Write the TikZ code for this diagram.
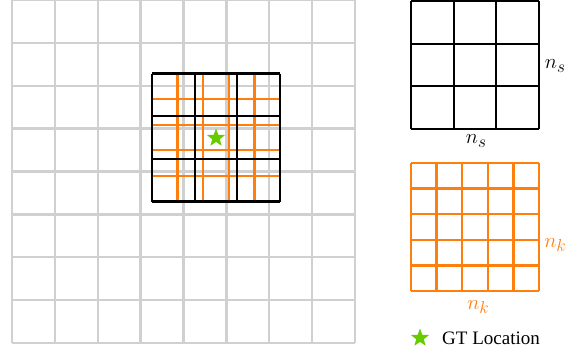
\documentclass[tikz,border=0pt]{standalone}
\usepackage{fontspec}
\setmainfont{Liberation Serif}
\usetikzlibrary{shapes.geometric}
\definecolor{gridgray}{RGB}{208,208,208}
\definecolor{gorange}{RGB}{255,127,14}
\definecolor{stargreen}{RGB}{102,204,0}
\newcommand{\bigsub}[2]{$#1$\raisebox{-4.5pt}{\fontsize{17}{17}\selectfont$#2$}}
\tikzset{
  graygrid/.style={draw=gridgray,line width=2.4pt},
  orangegrid/.style={draw=gorange,line width=2.3pt},
  blackgrid/.style={draw=black,line width=2.3pt},
  gtstar/.style={star,star points=5,star point ratio=2.4,fill=stargreen,draw=none,minimum size=19pt,inner sep=0pt},
  lab/.style={font=\fontsize{21}{25}\selectfont,inner sep=0pt},
}
\begin{document}
\begin{tikzpicture}[x=1pt,y=-1pt]
\useasboundingbox (0,0) rectangle (579,354);
% background gray grid 8x8
\foreach \i in {0,...,8}{
  \draw[graygrid] ({12+\i*42.875},0) -- ({12+\i*42.875},343);
  \draw[graygrid] (12,{\i*42.875}) -- (355,{\i*42.875});
}
% inner orange 5x5
\foreach \i in {0,...,5}{
  \draw[orangegrid] ({152+\i*25.6},73.5) -- ({152+\i*25.6},201.5);
  \draw[orangegrid] (152,{73.5+\i*25.6}) -- (280,{73.5+\i*25.6});
}
% inner black 3x3
\foreach \i in {0,...,3}{
  \draw[blackgrid] ({152+\i*42.667},73.5) -- ({152+\i*42.667},201.5);
  \draw[blackgrid] (152,{73.5+\i*42.667}) -- (280,{73.5+\i*42.667});
}
\node[gtstar] (gt) at (216,138) {};
% right black 3x3
\foreach \i in {0,...,3}{
  \draw[blackgrid] ({411+\i*42.667},1) -- ({411+\i*42.667},129);
  \draw[blackgrid] (411,{1+\i*42.667}) -- (539,{1+\i*42.667});
}
\node[lab] (nsr) at (555,66) {\bigsub{n}{s}};
\node[lab] (nsb) at (476,141) {\bigsub{n}{s}};
% right orange 5x5
\foreach \i in {0,...,5}{
  \draw[orangegrid] ({411+\i*25.6},163) -- ({411+\i*25.6},291);
  \draw[orangegrid] (411,{163+\i*25.6}) -- (539,{163+\i*25.6});
}
\node[lab,text=gorange] (nkr) at (555,245) {\bigsub{n}{k}};
\node[lab,text=gorange] (nkb) at (478,307) {\bigsub{n}{k}};
% legend
\node[gtstar] (legstar) at (420,338) {};
\node[font=\fontsize{19}{22}\selectfont,inner sep=0pt,anchor=west] (legtext) at (442,338) {GT Location};
\end{tikzpicture}
\end{document}
